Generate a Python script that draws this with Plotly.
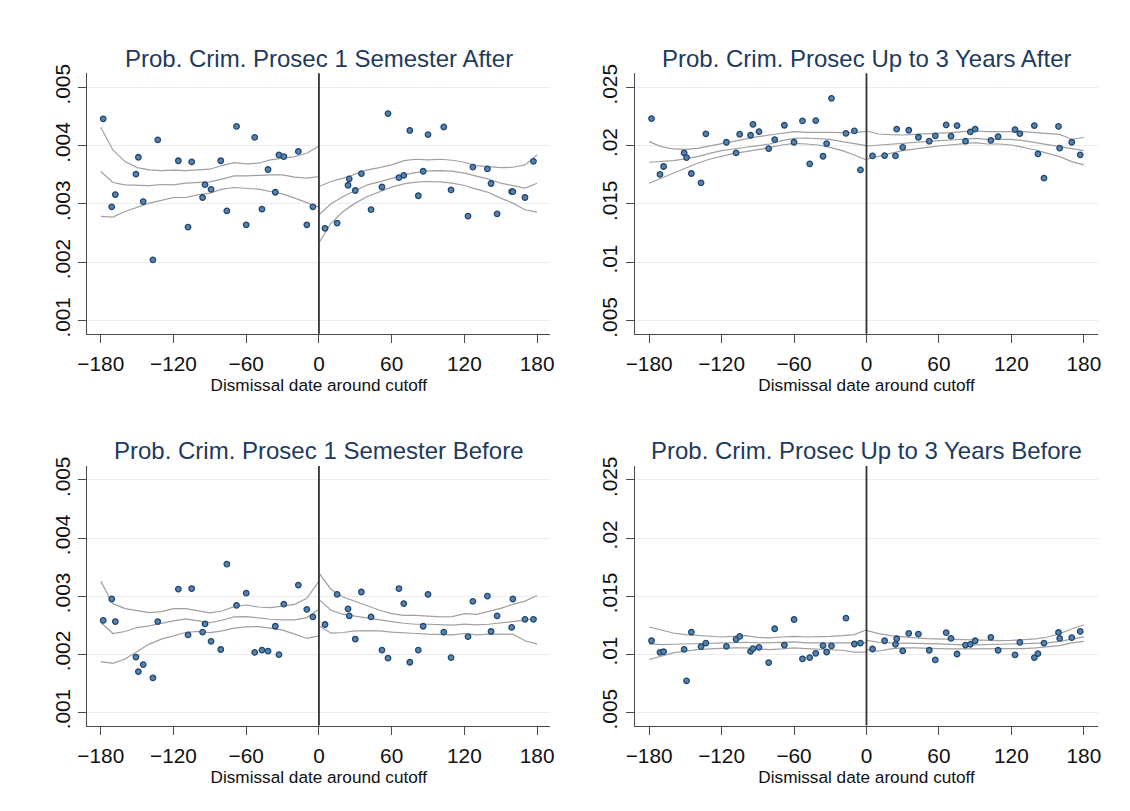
import plotly.graph_objects as go

# ---------------- data ----------------
X_BINS = [-178, -171, -168, -151, -149, -145, -137, -133, -116, -108, -105, -96, -94, -89, -81, -76,
          -68, -60, -53, -47, -42, -36, -33, -29, -17, -10, -5,
          5, 15, 24, 25, 30, 35, 43, 52, 57, 66, 70, 75, 82, 86, 90, 103, 109, 123, 127, 139, 142,
          147, 159, 160, 170, 177]

P1_Y = [.00446, .00295, .00316, .00351, .00380, .00304, .00204, .00410, .00374, .00260, .00372, .00311,
        .00333, .00325, .00374, .00288, .00433, .00264, .00414, .00291, .00359, .00320, .00384, .00381,
        .00390, .00264, .00295,
        .00258, .00267, .00332, .00343, .00323, .00352, .00290, .00329, .00455, .00345, .00349, .00426,
        .00314, .00356, .00419, .00432, .00324, .00279, .00363, .00360, .00335, .00283, .00321, .00321,
        .00311, .00373]

P2_Y = [.02232, .01753, .01821, .01938, .01898, .01761, .01681, .02101, .02029, .01938, .02098, .02089,
        .02183, .02121, .01975, .02052, .02175, .02029, .02212, .01844, .02215, .01909, .02018, .02406,
        .02106, .02126, .01792,
        .01912, .01915, .01912, .02141, .01986, .02132, .02072, .02038, .02084, .02178, .02081, .02172,
        .02038, .02118, .02141, .02046, .02078, .02138, .02103, .02172, .01929, .01721, .02166, .01978,
        .02029, .01921]

P3_Y = [.00258, .00295, .00256, .00195, .00170, .00182, .00159, .00256, .00312, .00233, .00313, .00238,
        .00252, .00222, .00208, .00355, .00284, .00305, .00203, .00207, .00205, .00248, .00199, .00286,
        .00319, .00277, .00264,
        .00251, .00303, .00278, .00266, .00226, .00307, .00264, .00207, .00193, .00313, .00287, .00186,
        .00207, .00248, .00303, .00238, .00194, .00230, .00291, .00300, .00239, .00266, .00246, .00295,
        .00260, .00260]

P4_Y = [.01116, .01016, .01022, .01042, .00771, .01190, .01065, .01096, .01068, .01128, .01153, .01025,
        .01048, .01059, .00928, .01219, .01079, .01299, .00959, .00971, .01008, .01074, .01019, .01071,
        .01310, .01088, .01096,
        .01045, .01116, .01085, .01133, .01028, .01179, .01173, .01034, .00951, .01185, .01136, .01002,
        .01079, .01085, .01116, .01145, .01034, .00994, .01102, .00971, .01005, .01096, .01188, .01136,
        .01142, .01196]

FIT_X_LEFT = [-180, -170, -160, -150, -140, -130, -120, -110, -100, -90, -80, -70, -60, -50, -40, -30, -20, -10, 0]
FIT_X_RIGHT = [0, 10, 20, 30, 40, 50, 60, 70, 80, 90, 100, 110, 120, 130, 140, 150, 160, 170, 180]

P1_L_HI = [.004314, .003926, .003726, .003623, .003584, .003572, .003578, .003572, .003584, .003595, .003658, .003709, .003686, .003698, .003755, .003778, .003812, .003869, .003994]
P1_L_MID = [.003555, .003367, .003327, .003315, .003315, .003333, .003327, .003355, .003367, .003378, .003424, .003481, .003481, .003492, .003498, .003498, .003458, .003441, .003469]
P1_L_LO = [.002785, .002774, .002870, .002945, .003013, .003059, .003110, .003110, .003156, .003184, .003253, .003281, .003270, .003253, .003213, .003173, .003099, .003025, .002945]
P1_R_HI = [.003298, .003384, .003441, .003509, .003584, .003623, .003669, .003743, .003766, .003755, .003766, .003749, .003715, .003658, .003641, .003623, .003629, .003669, .003840]
P1_R_MID = [.002813, .003002, .003127, .003230, .003327, .003378, .003441, .003498, .003538, .003566, .003572, .003561, .003527, .003481, .003424, .003355, .003310, .003270, .003355]
P1_R_LO = [.002329, .002671, .002870, .003013, .003127, .003213, .003287, .003344, .003372, .003384, .003378, .003355, .003315, .003253, .003196, .003099, .003013, .002899, .002859]

P2_L_HI = [.020342, .019914, .019715, .019686, .019772, .019971, .020200, .020428, .020627, .020770, .020913, .021055, .021198, .021141, .021169, .021141, .021112, .021112, .021226]
P2_L_MID = [.018574, .018631, .018717, .018859, .019059, .019344, .019572, .019715, .019857, .019971, .020143, .020428, .020627, .020656, .020627, .020542, .020342, .020143, .020000]
P2_L_LO = [.016777, .017205, .017633, .018061, .018488, .018831, .019116, .019344, .019487, .019629, .019829, .020057, .020200, .020143, .020057, .019857, .019572, .019201, .018774]
P2_R_HI = [.021255, .020998, .020941, .020913, .020970, .020998, .021055, .021112, .021198, .021255, .021198, .021198, .021226, .021198, .021112, .021055, .020970, .020550, .020700]
P2_R_MID = [.019971, .020057, .020114, .020200, .020257, .020342, .020428, .020485, .020542, .020627, .020542, .020570, .020542, .020428, .020257, .020057, .019857, .019686, .019572]
P2_R_LO = [.018831, .019116, .019344, .019572, .019743, .019857, .019971, .020057, .020200, .020257, .020143, .020143, .020057, .019857, .019629, .019344, .019059, .018631, .018346]

P3_L_HI = [.003257, .002869, .002783, .002755, .002715, .002732, .002783, .002783, .002743, .002709, .002743, .002817, .002846, .002812, .002800, .002823, .002857, .002960, .003257]
P3_L_MID = [.002544, .002355, .002390, .002458, .002487, .002532, .002572, .002606, .002572, .002544, .002584, .002641, .002646, .002618, .002601, .002589, .002589, .002629, .002772]
P3_L_LO = [.001870, .001842, .001916, .002047, .002173, .002258, .002321, .002372, .002390, .002372, .002401, .002447, .002469, .002475, .002447, .002412, .002344, .002270, .002315]
P3_R_HI = [.003399, .003114, .002983, .002903, .002829, .002755, .002698, .002669, .002669, .002658, .002641, .002646, .002698, .002686, .002732, .002789, .002857, .002914, .003011]
P3_R_MID = [.002943, .002755, .002686, .002658, .002629, .002601, .002561, .002532, .002515, .002515, .002504, .002498, .002515, .002504, .002515, .002544, .002561, .002584, .002612]
P3_R_LO = [.002487, .002361, .002372, .002401, .002401, .002401, .002378, .002361, .002355, .002344, .002344, .002333, .002355, .002333, .002344, .002350, .002344, .002230, .002173]

P4_L_HI = [.012339, .012053, .011825, .011683, .011597, .011540, .011483, .011540, .011597, .011455, .011398, .011483, .011540, .011483, .011483, .011540, .011597, .011683, .012111]
P4_L_MID = [.010884, .010827, .010856, .010884, .010913, .010970, .011027, .011055, .011027, .010970, .010970, .011027, .011055, .010970, .010970, .010970, .010970, .010913, .010970]
P4_L_LO = [.009544, .009829, .010114, .010257, .010399, .010456, .010513, .010542, .010542, .010456, .010399, .010456, .010542, .010485, .010456, .010399, .010342, .010171, .010171]
P4_R_HI = [.012053, .011768, .011597, .011483, .011398, .011340, .011312, .011312, .011255, .011198, .011169, .011169, .011198, .011255, .011312, .011483, .011768, .012167, .012538]
P4_R_MID = [.011198, .011027, .010970, .010970, .010970, .010913, .010884, .010827, .010799, .010799, .010827, .010827, .010827, .010884, .010913, .010970, .011112, .011312, .011500]
P4_R_LO = [.010399, .010257, .010456, .010542, .010542, .010542, .010485, .010456, .010456, .010456, .010456, .010456, .010456, .010485, .010542, .010627, .010742, .010970, .011112]

TITLES = ["Prob. Crim. Prosec 1 Semester After", "Prob. Crim. Prosec Up to 3 Years After",
          "Prob. Crim. Prosec 1 Semester Before", "Prob. Crim. Prosec Up to 3 Years Before"]
X_TITLE = "Dismissal date around cutoff"
X_TICKS = [-180, -120, -60, 0, 60, 120, 180]
Y_TICKS_SEM = [.001, .002, .003, .004, .005]
Y_LABELS_SEM = [".001", ".002", ".003", ".004", ".005"]
Y_TICKS_YR = [.005, .01, .015, .02, .025]
Y_LABELS_YR = [".005", ".01", ".015", ".02", ".025"]

# ---------------- layout / styling ----------------
W, H = 1114, 795
FONT = "Liberation Sans, Arial, Helvetica, sans-serif"
MARK_FILL = "#5a82ab"
MARK_LINE = "#1e4873"
FIT_COLOR = "#a0a0a0"
AXIS_COLOR = "#4a4a4a"
GRID_COLOR = "#ececec"
TITLE_COLOR = "#1e3a5c"

# plot boxes in figure pixels: (left, right, top, bottom)
BOXES = [(70.1, 539.2, 57.3, 322.1), (624.6, 1094.2, 57.3, 322.1),
         (70.1, 539.2, 456.5, 720.3), (624.6, 1094.2, 456.5, 720.3)]
X_RANGES = [[-191.2, 191.0], [-191.9, 192.1], [-191.2, 191.0], [-191.9, 192.1]]
Y_RANGES = [[0.00077, 0.00524], [0.00386, 0.0262], [0.00077, 0.00524], [0.00386, 0.0262]]
TITLE_Y_PX = [41.8, 41.8, 440.5, 440.5]

panels = [
    (P1_Y, (P1_L_HI, P1_L_MID, P1_L_LO), (P1_R_HI, P1_R_MID, P1_R_LO), Y_TICKS_SEM, Y_LABELS_SEM),
    (P2_Y, (P2_L_HI, P2_L_MID, P2_L_LO), (P2_R_HI, P2_R_MID, P2_R_LO), Y_TICKS_YR, Y_LABELS_YR),
    (P3_Y, (P3_L_HI, P3_L_MID, P3_L_LO), (P3_R_HI, P3_R_MID, P3_R_LO), Y_TICKS_SEM, Y_LABELS_SEM),
    (P4_Y, (P4_L_HI, P4_L_MID, P4_L_LO), (P4_R_HI, P4_R_MID, P4_R_LO), Y_TICKS_YR, Y_LABELS_YR),
]

fig = go.Figure()
layout = dict(width=W, height=H, margin=dict(l=0, r=0, t=0, b=0),
              paper_bgcolor="white", plot_bgcolor="white", showlegend=False,
              font=dict(family=FONT, color="#111111"))
annotations = []
shapes = []

for i, (ys, left_fits, right_fits, yt, yl) in enumerate(panels):
    n = i + 1
    xa = "x" if n == 1 else f"x{n}"
    ya = "y" if n == 1 else f"y{n}"
    l, r, t, b = BOXES[i]
    xdom = [l / W, r / W]
    ydom = [1 - b / H, 1 - t / H]

    for fit in left_fits:
        fig.add_trace(go.Scatter(x=FIT_X_LEFT, y=fit, mode="lines", xaxis=xa, yaxis=ya,
                                 line=dict(color=FIT_COLOR, width=1.2), hoverinfo="skip"))
    for fit in right_fits:
        fig.add_trace(go.Scatter(x=FIT_X_RIGHT, y=fit, mode="lines", xaxis=xa, yaxis=ya,
                                 line=dict(color=FIT_COLOR, width=1.2), hoverinfo="skip"))
    fig.add_trace(go.Scatter(x=X_BINS, y=ys, mode="markers", xaxis=xa, yaxis=ya,
                             marker=dict(size=5.5, color=MARK_FILL,
                                         line=dict(color=MARK_LINE, width=1.3))))

    xkey = "xaxis" if n == 1 else f"xaxis{n}"
    ykey = "yaxis" if n == 1 else f"yaxis{n}"
    layout[xkey] = dict(domain=xdom, anchor=ya, range=X_RANGES[i], tickvals=X_TICKS,
                        showgrid=False, zeroline=False, showline=True, linecolor=AXIS_COLOR,
                        linewidth=1.3, ticks="outside", ticklen=8, tickwidth=1.3,
                        tickcolor=AXIS_COLOR, tickfont=dict(size=20.8, color="#111111"),
                        ticklabelstandoff=3,
                        title=dict(text=X_TITLE, font=dict(size=17.2, color="#111111"), standoff=0))
    layout[ykey] = dict(domain=ydom, anchor=xa, range=Y_RANGES[i], tickvals=yt, ticktext=yl,
                        tickangle=-90, showgrid=True, gridcolor=GRID_COLOR, gridwidth=1.2,
                        zeroline=False, showline=True, linecolor=AXIS_COLOR, linewidth=1.3,
                        ticks="outside", ticklen=8, tickwidth=1.3, tickcolor=AXIS_COLOR,
                        tickfont=dict(size=20.8, color="#111111"))
    shapes.append(dict(type="line", xref=xa, yref=f"{ya} domain", x0=0, x1=0, y0=0, y1=1,
                       line=dict(color="#333333", width=1.8)))
    annotations.append(dict(text=TITLES[i], xref="paper", yref="paper",
                            x=(xdom[0] + xdom[1]) / 2, y=1 - TITLE_Y_PX[i] / H,
                            xanchor="center", yanchor="middle", showarrow=False,
                            font=dict(size=24, color=TITLE_COLOR)))

layout["annotations"] = annotations
layout["shapes"] = shapes
fig.update_layout(**layout)
fig.write_html("out.html")
